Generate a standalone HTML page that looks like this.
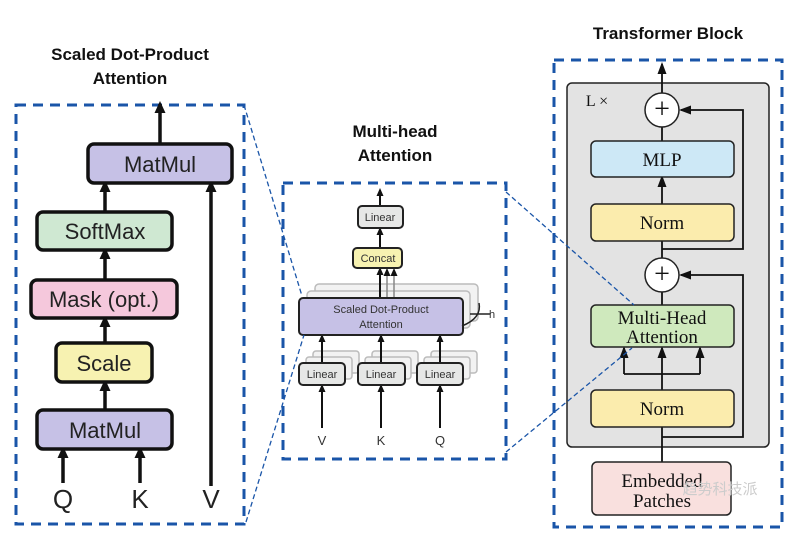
<!DOCTYPE html><html><head><style>body{margin:0;background:#fff;width:786px;height:532px;overflow:hidden}</style></head><body>
<svg width="786" height="532" xmlns="http://www.w3.org/2000/svg" font-family="Liberation Sans, sans-serif">
<defs>
<marker id="a" markerWidth="12" markerHeight="12" refX="9" refY="6" orient="auto" markerUnits="userSpaceOnUse"><path d="M0,0.5 L12,6 L0,11.5Z" fill="#111"/></marker>
<marker id="m" markerWidth="8" markerHeight="8" refX="6" refY="4" orient="auto" markerUnits="userSpaceOnUse"><path d="M0,0.5 L8,4 L0,7.5Z" fill="#111"/></marker>
<marker id="r" markerWidth="12" markerHeight="10" refX="10" refY="5" orient="auto" markerUnits="userSpaceOnUse"><path d="M0,0.5 L12,5 L0,9.5Z" fill="#111"/></marker>
</defs>
<g font-weight="bold" font-size="17" text-anchor="middle" fill="#111">
<text x="130" y="60">Scaled Dot-Product</text><text x="130" y="84">Attention</text>
<text x="395" y="137">Multi-head</text><text x="395" y="161">Attention</text>
<text x="668" y="39">Transformer Block</text></g>
<g fill="none" stroke="#1a55a8" stroke-width="3" stroke-dasharray="10,7">
<rect x="16" y="105" width="228" height="419"/><rect x="283" y="183" width="223" height="276"/><rect x="554" y="60" width="228" height="467"/></g>
<!-- left -->
<g stroke="#111" stroke-width="3.5">
<line x1="160" y1="143" x2="160" y2="104" marker-end="url(#a)"/>
<line x1="105" y1="212" x2="105" y2="183" marker-end="url(#a)"/>
<line x1="105" y1="280" x2="105" y2="250" marker-end="url(#a)"/>
<line x1="105" y1="343" x2="105" y2="318" marker-end="url(#a)"/>
<line x1="105" y1="410" x2="105" y2="382" marker-end="url(#a)"/>
<line x1="63" y1="483" x2="63" y2="449" marker-end="url(#a)"/>
<line x1="140" y1="483" x2="140" y2="449" marker-end="url(#a)"/>
<line x1="211" y1="486" x2="211" y2="183" marker-end="url(#a)"/></g>
<g stroke="#111" stroke-width="3.5">
<rect x="88" y="144" width="144" height="39" rx="6" fill="#c6c1e6"/>
<rect x="37" y="212" width="135" height="38" rx="6" fill="#cfe8d2"/>
<rect x="31" y="280" width="146" height="38" rx="6" fill="#f5c8dc"/>
<rect x="56" y="343" width="96" height="39" rx="6" fill="#f7f2b1"/>
<rect x="37" y="410" width="135" height="39" rx="6" fill="#c6c1e6"/></g>
<g font-size="22" text-anchor="middle" fill="#222">
<text x="160" y="172">MatMul</text><text x="105" y="239">SoftMax</text><text x="104" y="307">Mask (opt.)</text><text x="104" y="371">Scale</text><text x="105" y="438">MatMul</text>
<text x="63" y="508" font-size="26">Q</text><text x="140" y="508" font-size="26">K</text><text x="211" y="508" font-size="26">V</text></g>
<!-- middle -->
<g stroke="#bbb" stroke-width="1.5" fill="#f2f2f2">
<rect x="315" y="284" width="163" height="37" rx="4"/><rect x="307" y="291" width="163" height="37" rx="4"/>
<rect x="313" y="351" width="46" height="22" rx="3"/><rect x="372" y="351" width="46" height="22" rx="3"/><rect x="431" y="351" width="46" height="22" rx="3"/>
<rect x="306" y="357" width="46" height="22" rx="3"/><rect x="365" y="357" width="46" height="22" rx="3"/><rect x="424" y="357" width="46" height="22" rx="3"/></g>
<g stroke="#111" stroke-width="2">
<line x1="380" y1="206" x2="380" y2="190" marker-end="url(#m)"/>
<line x1="380" y1="248" x2="380" y2="229" marker-end="url(#m)"/>
<line x1="380" y1="298" x2="380" y2="269" marker-end="url(#m)"/>
<line x1="322" y1="428" x2="322" y2="386" marker-end="url(#m)"/>
<line x1="381" y1="428" x2="381" y2="386" marker-end="url(#m)"/>
<line x1="440" y1="428" x2="440" y2="386" marker-end="url(#m)"/>
<line x1="322" y1="363" x2="322" y2="336" marker-end="url(#m)"/>
<line x1="381" y1="363" x2="381" y2="336" marker-end="url(#m)"/>
<line x1="440" y1="363" x2="440" y2="336" marker-end="url(#m)"/></g>
<g stroke="#888" stroke-width="1.5"><line x1="387" y1="298" x2="387" y2="270" marker-end="url(#m)"/><line x1="394" y1="298" x2="394" y2="270" marker-end="url(#m)"/></g>
<g stroke="#222" stroke-width="2">
<rect x="358" y="206" width="45" height="22" rx="4" fill="#e6e7e6"/>
<rect x="353" y="248" width="49" height="20" rx="4" fill="#f7f2b1"/>
<rect x="299" y="298" width="164" height="37" rx="4" fill="#c6c1e6"/>
<rect x="299" y="363" width="46" height="22" rx="4" fill="#e6e7e6"/><rect x="358" y="363" width="47" height="22" rx="4" fill="#e6e7e6"/><rect x="417" y="363" width="46" height="22" rx="4" fill="#e6e7e6"/></g>
<path d="M479,303 Q482,318 462,326 M470,314 L490,314" stroke="#222" stroke-width="1.5" fill="none"/>
<g font-size="11" text-anchor="middle" fill="#333">
<text x="380" y="221">Linear</text><text x="378" y="262">Concat</text>
<text x="381" y="313">Scaled Dot-Product</text><text x="381" y="328">Attention</text>
<text x="322" y="378">Linear</text><text x="381" y="378">Linear</text><text x="440" y="378">Linear</text>
<text x="492" y="318">h</text>
<text x="322" y="445" font-size="13">V</text><text x="381" y="445" font-size="13">K</text><text x="440" y="445" font-size="13">Q</text></g>
<!-- right -->
<rect x="567" y="83" width="202" height="364" rx="5" fill="#e3e3e3" stroke="#222" stroke-width="1.5"/>
<g stroke="#111" stroke-width="1.8" fill="none">
<line x1="662" y1="462" x2="662" y2="427"/>
<line x1="662" y1="390" x2="662" y2="374"/>
<path d="M624,374 L700,374"/>
<path d="M662,437 L743,437 L743,275 L681,275" marker-end="url(#r)"/>
<line x1="662" y1="305" x2="662" y2="292"/>
<line x1="662" y1="258" x2="662" y2="241"/>
<path d="M662,249 L743,249 L743,110 L681,110" marker-end="url(#r)"/>
<line x1="662" y1="204" x2="662" y2="177" marker-end="url(#r)"/>
<line x1="662" y1="141" x2="662" y2="127"/>
<line x1="662" y1="93" x2="662" y2="64" marker-end="url(#r)"/>
<line x1="624" y1="374" x2="624" y2="348" marker-end="url(#r)"/><line x1="662" y1="374" x2="662" y2="348" marker-end="url(#r)"/><line x1="700" y1="374" x2="700" y2="348" marker-end="url(#r)"/>
</g>
<g stroke="#222" stroke-width="1.5">
<rect x="591" y="141" width="143" height="36" rx="5" fill="#cde8f6"/>
<rect x="591" y="204" width="143" height="37" rx="5" fill="#fbecad"/>
<rect x="591" y="305" width="143" height="42" rx="5" fill="#cfe9bd"/>
<rect x="591" y="390" width="143" height="37" rx="5" fill="#fbecad"/>
<rect x="592" y="462" width="139" height="53" rx="5" fill="#f9e0de"/>
<circle cx="662" cy="110" r="17" fill="#fff"/><circle cx="662" cy="275" r="17" fill="#fff"/></g>
<g font-family="Liberation Serif, serif" font-size="19" text-anchor="middle" fill="#111">
<text x="662" y="118" font-size="28">+</text><text x="662" y="283" font-size="28">+</text>
<text x="662" y="166">MLP</text><text x="662" y="229">Norm</text>
<text x="662" y="324">Multi-Head</text><text x="662" y="343">Attention</text>
<text x="662" y="415">Norm</text><text x="662" y="487">Embedded</text><text x="662" y="507">Patches</text>
<text x="597" y="106" font-size="16">L ×</text></g>
<g stroke="#1a55a8" stroke-width="1.3" stroke-dasharray="5,3">
<line x1="244" y1="105" x2="302" y2="296"/><line x1="246" y1="522" x2="304" y2="335"/>
<line x1="506" y1="192" x2="634" y2="305"/><line x1="506" y1="452" x2="632" y2="348"/></g>
<text x="720" y="494" font-family="Liberation Sans, Noto Sans CJK SC, sans-serif" font-size="15" fill="#ccc" text-anchor="middle">趋势科技派</text>
</svg></body></html>
